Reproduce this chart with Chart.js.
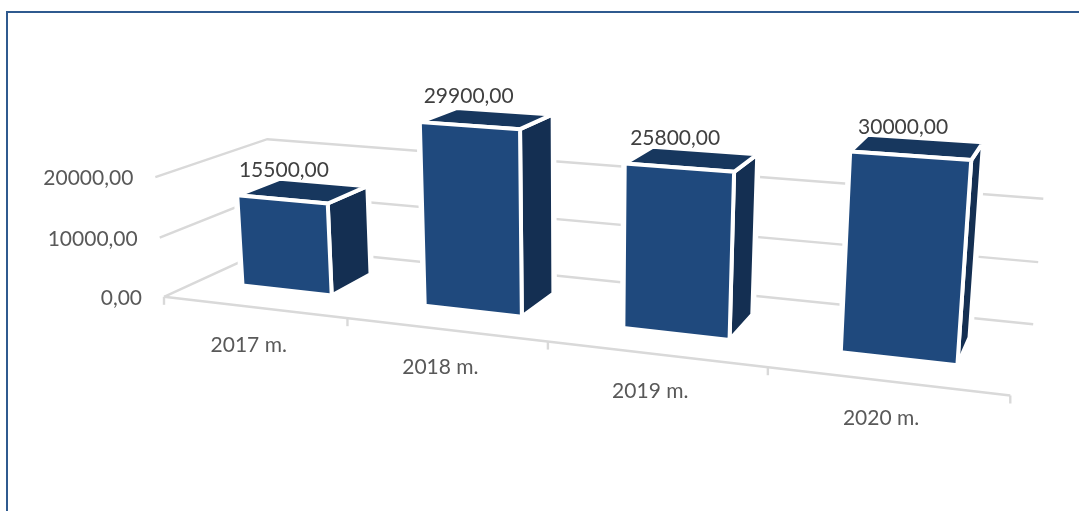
<!DOCTYPE html>
<html>
<head>
<meta charset="utf-8">
<script src="https://cdn.jsdelivr.net/npm/chart.js@4/dist/chart.umd.min.js"></script>
<style>
html,body{margin:0;padding:0;background:#fff;overflow:hidden}
#wrap{position:absolute;left:0;top:0;width:1079px;height:511px}
#frame{position:absolute;left:6px;top:11px;right:-4px;bottom:-4px;border-left:2px solid #2f5a8f;border-top:2px solid #2f5a8f}
canvas{position:absolute;left:0;top:0}
</style>
</head>
<body>
<div id="wrap"><div id="frame"></div><canvas id="chart" width="1079" height="511"></canvas></div>
<script>
var categories = ['2017 m.', '2018 m.', '2019 m.', '2020 m.']
var values = [15500, 29900, 25800, 30000]
var yTickValues = [0, 10000, 20000]
var axisMax = 30000

// bars sit between these two depths of the box (0 = front edge, 1 = back wall)
var depthFront = 0.3
var depthBack = 0.7

// camera: maps (u, depth, value / 10000) to canvas pixels
var camera = [
    674.855628, 141.266687, -5.926512, 164.002683,
    31.582899, -20.773821, -61.608891, 296.808993,
    -0.169678, 0.118312, -0.010276, 1
]

var gridColor = '#d9d9d9'
var labelColor = '#595959'
var valueColor = '#404040'
var frontColor = '#1f497d'
var topColor = '#17375e'
var sideColor = '#142f52'
var labelFont = '21px Lato'

var fnFormatValue = (v) => Number(v).toFixed(2).replace('.', ',')

var fnProject = (u, d, v) => {
    var w = camera[8] * u + camera[9] * d + camera[10] * v + camera[11]
    return {
        x: (camera[0] * u + camera[1] * d + camera[2] * v + camera[3]) / w,
        y: (camera[4] * u + camera[5] * d + camera[6] * v + camera[7]) / w
    }
}

var fnPath = (ctx, pts) => {
    ctx.beginPath()
    pts.forEach((p, i) => {
        if (i === 0) {
            ctx.moveTo(p.x, p.y)
        } else {
            ctx.lineTo(p.x, p.y)
        }
    })
}

var fnFace = (ctx, pts, color) => {
    fnPath(ctx, pts)
    ctx.closePath()
    ctx.fillStyle = color
    ctx.fill()
    ctx.strokeStyle = '#ffffff'
    ctx.lineWidth = 4
    ctx.lineJoin = 'round'
    ctx.stroke()
}

// draws the box, axes and bars in perspective from the chart's own scales and bar elements
var box3d = {
    id: 'box3d',
    beforeDatasetsDraw(chart) {
        var ctx = chart.ctx
        var xs = chart.scales.x
        var ys = chart.scales.y
        var area = chart.chartArea
        var project = (px, py, d) => fnProject(
            (px - area.left) / area.width,
            d,
            (area.bottom - py) / area.height * axisMax / 10000
        )
        var zero = ys.getPixelForValue(0)

        ctx.save()
        ctx.font = labelFont
        ctx.textBaseline = 'middle'
        ctx.strokeStyle = gridColor
        ctx.lineWidth = 2.4

        ys.ticks.forEach((t) => {
            var py = ys.getPixelForValue(t.value)
            var front = project(area.left, py, 0)
            fnPath(ctx, [front, project(area.left, py, 1), project(area.right, py, 1)])
            ctx.stroke()
            ctx.fillStyle = labelColor
            ctx.textAlign = 'right'
            ctx.fillText(t.label, front.x - 22, front.y + 1.5)
        })

        fnPath(ctx, [project(area.left, zero, 0), project(area.right, zero, 0)])
        ctx.stroke()
        for (var i = 0; i <= categories.length; i++) {
            var p = project(xs.left + i * xs.width / categories.length, zero, 0)
            fnPath(ctx, [p, { x: p.x, y: p.y + 8 }])
            ctx.stroke()
        }

        ctx.textAlign = 'center'
        ctx.fillStyle = labelColor
        categories.forEach((c, i) => {
            var p = project(xs.getPixelForValue(i), zero, 0)
            ctx.fillText(c, p.x - 5, p.y + 37.5)
        })

        var bars = chart.getDatasetMeta(0).data
        bars.forEach((bar) => {
            var l = bar.x - bar.width / 2
            var r = bar.x + bar.width / 2
            var ftl = project(l, bar.y, depthFront)
            var ftr = project(r, bar.y, depthFront)
            var fbl = project(l, bar.base, depthFront)
            var fbr = project(r, bar.base, depthFront)
            var btl = project(l, bar.y, depthBack)
            var btr = project(r, bar.y, depthBack)
            var bbr = project(r, bar.base, depthBack)

            // white halo so the gridlines stop short of the bar
            fnPath(ctx, [ftl, btl, btr, bbr, fbr, fbl])
            ctx.closePath()
            ctx.save()
            ctx.strokeStyle = '#ffffff'
            ctx.lineWidth = 7
            ctx.lineJoin = 'round'
            ctx.stroke()
            ctx.restore()

            fnFace(ctx, [fbr, bbr, btr, ftr], sideColor)
            fnFace(ctx, [ftl, btl, btr, ftr], topColor)
            fnFace(ctx, [fbl, fbr, ftr, ftl], frontColor)
        })

        ctx.fillStyle = valueColor
        bars.forEach((bar, i) => {
            var p = project(bar.x, bar.y, depthFront)
            ctx.fillText(fnFormatValue(values[i]), p.x + (420 - p.x) * 0.014, p.y - 29)
        })
        ctx.restore()
        return false
    }
}

new Chart(document.getElementById('chart'), {
    type: 'bar',
    data: {
        labels: categories,
        datasets: [{ data: values, backgroundColor: frontColor, barPercentage: 0.5, categoryPercentage: 1 }]
    },
    options: {
        responsive: false,
        animation: false,
        plugins: { legend: { display: false }, tooltip: { enabled: false } },
        scales: {
            x: { display: false },
            y: {
                display: false,
                min: 0,
                max: axisMax,
                afterBuildTicks: (scale) => { scale.ticks = yTickValues.map(v => ({ value: v })) },
                ticks: { callback: fnFormatValue }
            }
        }
    },
    plugins: [box3d]
})
</script>
</body>
</html>
